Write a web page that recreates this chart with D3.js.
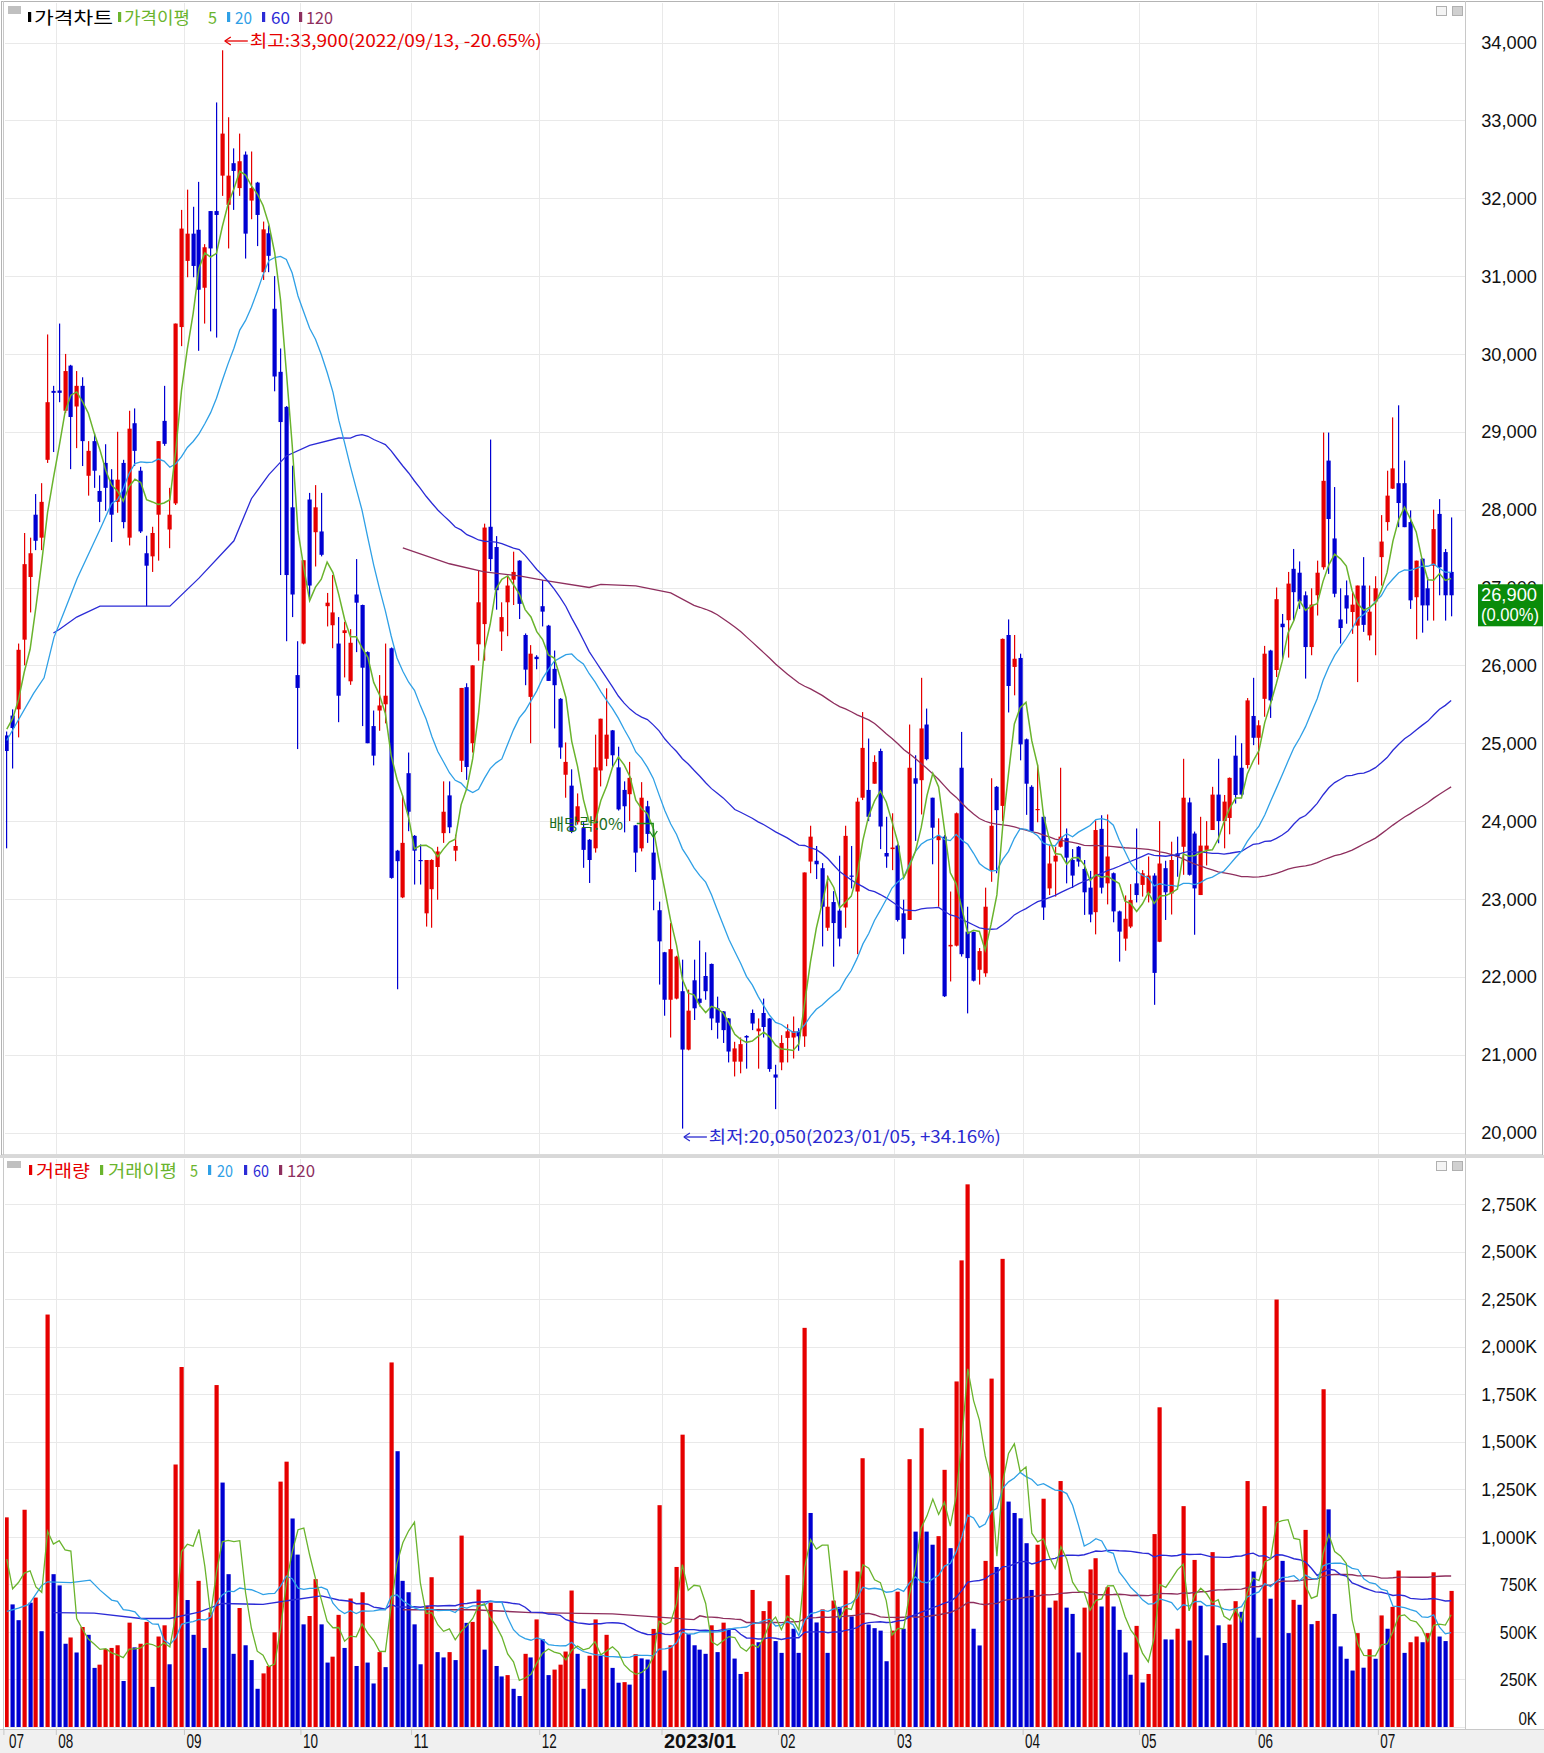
<!DOCTYPE html>
<html><head><meta charset="utf-8">
<script src="https://cdn.jsdelivr.net/npm/d3@7"></script>
<style>html,body{margin:0;padding:0;background:#fff;} svg{display:block;}</style>
</head><body>
<script>
// ---------------- DATA ----------------
const monthTickIdx = [0, 9, 31, 51, 70, 92, 113, 133, 153, 175, 195, 215, 236];
const monthLabels  = ["07","08","09","10","11","12","2023/01","02","03","04","05","06","07"];
const priceTicks = [20000,21000,22000,23000,24000,25000,26000,27000,28000,29000,30000,31000,32000,33000,34000];
const volumeTicks = [0,250,500,750,1000,1250,1500,1750,2000,2250,2500,2750]; // thousands

const opens = [
25100,25355,25435,26330,27135,27935,27640,28640,29525,29530,
29270,29850,29325,29590,28435,28880,28240,28600,28385,28100,
28600,27640,29110,28500,27440,27400,27935,29140,27745,28080,
30345,31195,31545,31595,30850,31835,31835,32290,31915,32450,
32130,32560,31970,32200,31050,31550,30580,29770,29320,28030,
25875,26280,28130,27710,27720,26760,26515,26280,26415,25795,
26910,26775,26170,25220,25420,25500,26220,23620,23020,24615,
23810,23500,22815,23125,23410,23845,24330,23620,24775,25720,
25000,26270,26530,27780,27520,26435,26810,27100,27345,26390,
25595,26110,26760,26510,25955,25570,24595,24455,23985,23910,
23760,23650,24650,24800,25165,24690,24400,24345,23945,23650,
24190,23595,22855,22315,21705,21720,21815,21065,21955,21720,
22010,22165,21595,21555,21465,20910,20910,21240,21535,21300,
21535,21465,20745,20900,21215,21220,21300,21235,23480,23490,
23395,22630,22960,22850,22890,23300,23095,24300,24400,24480,
24900,23590,23640,23685,22815,22730,24550,24525,25240,24300,
23755,23800,22390,22400,24685,22580,22575,22090,22045,23370,
24440,24195,26390,25980,26095,25050,24440,24140,24055,23135,
23480,23670,23780,23500,23670,23385,23145,22830,23900,23200,
23330,22840,22490,22645,23200,23180,23070,23300,22450,23395,
23070,23585,23670,24240,23840,23050,23630,23885,24340,24000,
24040,24840,24685,24720,25350,25070,25570,26190,25940,26535,
26580,27240,27190,26900,26235,26900,27260,28630,27630,26590,
26900,26685,26510,27025,26385,26820,27390,27840,28270,28340,
28340,27840,26875,27370,26990,27280,27945,27455,27200];

const highs = [
25150,25435,26280,27700,27640,28200,28340,30250,29590,30390,
30000,29860,29780,29700,28880,28980,28440,28840,28520,29000,
28640,29270,29300,28550,27665,27780,28880,29590,28280,30390,
31850,32110,31890,32210,31410,31835,33230,33900,33040,32640,
32830,32600,32600,32210,31700,31650,31000,30070,29330,28565,
26310,27350,28215,28315,28215,26930,27160,26620,26560,26465,
27365,26780,26180,25420,25875,26280,26230,23630,24330,24880,
23820,23700,23500,23510,23670,24510,24510,23825,25710,25770,
26000,27225,27820,28900,27660,26810,27150,27460,27350,26410,
26260,26130,27095,26520,26190,25580,25010,24665,24355,23985,
23770,25110,25315,25705,25170,24955,24510,24760,23950,24500,
24260,23900,22965,22320,22690,22270,22220,21835,22220,22465,
22315,22170,21745,21560,21470,21165,21220,21250,21580,21465,
21720,21470,20870,21250,21390,21490,21340,23340,23940,23680,
23460,23300,23100,23555,23940,23680,24300,25400,25060,24845,
24930,24055,24100,23700,22990,25240,24845,25840,25445,24300,
24035,23820,23095,24110,25145,22900,22580,22370,23145,24550,
24450,26345,26590,26390,26150,25060,24460,24725,24060,23690,
23670,24685,23905,23640,23680,23500,23360,24010,24075,24085,
23340,22850,23045,23190,23905,23370,23545,23330,24000,23490,
23735,23800,24800,24300,23865,24055,24000,24440,24800,24335,
24560,25100,25000,25580,25840,25295,26250,26200,27000,26660,
27200,27495,27335,26950,26990,27345,28990,28990,28290,26990,
27090,26940,27025,27390,27025,27145,27930,28500,29185,29340,
28630,27990,27345,27375,27135,28000,28135,27495,27900];

const lows = [
23650,24675,25075,26000,26680,27480,27480,28600,28740,29380,
29240,28520,28790,28560,28180,28280,27840,27985,27585,27960,
27760,27540,28560,27700,26760,27200,27345,28820,27505,28060,
30100,30985,30985,30040,30390,30290,30210,32030,31355,31850,
32030,31225,31730,31385,30950,31050,29520,27160,26310,26620,
24925,26270,26870,27270,27400,26500,26220,25270,25845,25750,
26170,25220,25000,24715,25160,25255,23260,21840,23010,23870,
23185,23185,22645,22630,22990,23720,23845,23485,24630,24530,
24880,26060,26060,27210,26715,26185,26375,26775,26595,25745,
25000,25950,26500,25800,25190,24800,24300,23845,23955,23400,
23205,23595,24445,24705,24690,24135,23855,24000,23345,23610,
23720,22855,21900,21500,21220,21710,20050,21055,21445,21620,
21705,21315,21205,21150,20900,20720,20760,20820,21315,20820,
21220,20780,20300,20800,20900,20950,21050,21100,23330,23255,
22390,22590,22130,22390,22630,23135,22290,24270,24000,24480,
23640,23400,23370,22710,22290,22730,23745,24085,24780,23445,
22900,21740,21940,22390,22260,21530,21940,21900,22000,23220,
23330,24000,25395,25615,24780,24080,23860,23985,22730,23050,
23030,23660,23200,23140,23415,22795,22700,22545,23070,22930,
22700,22195,22335,22625,22955,23030,22955,21640,22445,22730,
22800,23285,23310,23300,22540,23050,23430,23885,23715,23650,
23830,24225,24325,24675,24975,24725,25340,25325,25850,26085,
26100,26575,26725,25830,26130,26640,27230,27175,26875,26280,
26535,26405,25785,26430,26320,26130,27025,27730,28265,27775,
27775,26725,26335,26420,26575,26575,26900,26575,26630];

const closes = [
24900,25195,26200,27300,27440,27600,28100,29380,29500,29500,
29780,29190,29590,28880,28755,28500,28100,28280,27935,28385,
27840,29040,28755,27720,27280,27700,28880,28845,27935,30390,
31610,31545,31130,30825,31370,31355,31785,32830,32290,32350,
32475,31545,32130,31785,31600,31260,29710,29125,27160,26910,
25710,27350,27025,28030,27420,26805,26680,25610,26450,26290,
26805,25970,25000,24840,25485,25610,23270,23485,23720,24120,
23620,23485,23500,23500,23610,24120,23920,23680,25710,24695,
26000,26810,27770,27365,26965,26620,27025,27200,26790,25945,
26150,26080,26690,25800,25745,24945,24760,23870,24190,23630,
23500,24690,25315,25110,24845,24150,24190,24555,23595,24300,
23835,23245,22455,21705,22355,22260,21065,21565,21595,21665,
21815,21465,21410,21315,21040,21080,21135,21220,21400,21335,
21355,20815,20705,21150,21300,21300,21235,23340,23800,23445,
22900,22900,22690,22490,23810,23290,24250,24940,24055,24760,
23930,23545,23660,22730,22490,24685,24480,25190,24795,23915,
23810,21750,22410,24100,22290,22240,21950,22330,22900,23940,
24140,26340,25735,26085,24985,24480,23865,24155,22890,23455,
23555,23800,23530,23300,23480,23085,22800,23885,23145,23545,
22840,22580,22745,22985,23050,23330,23300,22050,23455,23085,
23500,23545,24300,23310,23135,23685,23685,24340,24000,24250,
24555,24335,24340,25550,25070,25230,26150,25550,26850,26490,
27050,26940,26820,26235,26780,27190,28370,27880,26920,26480,
26730,26780,27025,26520,26690,26990,27590,28180,28530,28085,
27775,26835,27345,26770,26770,27750,27260,26900,26900];

// volume in thousands of shares
const volumes = [
1103,645,562,1143,654,681,504,2170,804,745,
438,471,392,526,485,311,328,410,416,430,
242,549,419,438,553,211,476,535,330,1381,
1894,668,485,769,416,603,1799,1286,804,385,
626,430,352,201,282,321,498,1291,1396,1097,
907,540,584,778,540,339,370,590,416,676,
321,709,339,229,394,315,1918,1451,769,709,
540,330,639,788,394,366,394,352,1007,548,
553,723,407,654,321,266,273,201,163,385,
366,566,462,273,302,328,397,718,385,201,
375,566,375,485,311,233,236,223,383,361,
355,516,1167,297,430,842,1538,489,430,407,
385,535,394,549,516,360,279,290,721,446,
610,662,452,390,799,517,390,2100,1126,550,
619,390,665,632,823,582,818,1414,539,520,
507,346,507,712,517,1409,1028,1572,1028,959,
1004,1353,941,1818,2455,2855,517,429,874,1833,
842,2463,1186,1126,1098,967,721,959,1201,628,
665,1294,628,595,392,628,829,888,634,736,
634,511,392,275,532,234,279,1015,1682,461,
460,517,1162,455,879,638,377,920,535,442,
539,662,606,1294,818,470,1162,675,2249,874,
494,669,643,1037,541,558,1777,1145,595,424,
359,297,494,312,409,359,587,517,632,823,
390,446,476,446,494,814,476,452,716];

const ma5Lead   = [[0,25180],[1,25315],[2,25555],[3,25915]];
const ma20Lead  = [[0,25035],[1.2,25195],[4.6,25640],[6.4,25840],[8.1,26360],[9.8,26680],[12.1,27120],[16.1,27760],[18,28080]];
const ma60Lead  = [[8,26415],[9,26460],[12,26620],[16,26760],[24,26760],[28,26760],[33,27120],[39,27600],[42,28140],[45,28450],[48,28690],[52,28825],[57,28920]];
const ma120Lead = [[68,27510],[76,27305],[82,27200],[88,27150],[92,27095],[100,27000],[102,27040],[108,27020],[114,26930],[118,26770]];
const vma5Lead   = [[0,883],[1,727],[2,760],[3,810]];
const vma20Lead  = [[0,608],[2,625],[3.8,645],[6,745],[7,764],[11,760],[14.3,773],[16,720],[18,668]];
const vma60Lead  = [[8,602],[15,599],[23,571],[28,571],[33,604],[37,650],[44,645],[49,668],[54,690],[57,668]];
const vma120Lead = [[68,617],[80,617],[90,602],[104,595],[118,565]];

// ---------------- LAYOUT ----------------
const W = 1544, H = 1753;
const plotL = 5, plotR = 1465;
const pTop = 3, pBot = 1154, vTop = 1159, vBot = 1729;
const RED = "#e60000", BLUE = "#0000d2";
const C5 = "#6ab42d", C20 = "#2fa0e6", C60 = "#2b2bd6", C120 = "#8e2f5e";
const GRID = "#e9e9e9";

const N = closes.length;
const x = d3.scaleLinear().domain([0, N - 1]).range([6.3, 6.3 + (N - 1) * 5.824]);
const y = d3.scaleLinear().domain([20000, 34000]).range([1132.5, 42.5]);
const yv = d3.scaleLinear().domain([0, 2750]).range([1727, 1204.3]);

const svg = d3.select("body").append("svg").attr("width", W).attr("height", H)
  .attr("font-family", "'Liberation Sans', Arial, sans-serif");

svg.append("rect").attr("width", W).attr("height", H).attr("fill", "#ffffff");
svg.append("rect").attr("x", 0).attr("y", vBot + 1).attr("width", W).attr("height", H - vBot - 1).attr("fill", "#f0f0f0");

const defs = svg.append("defs");
defs.append("clipPath").attr("id", "clipP").append("rect").attr("x", plotL).attr("y", pTop).attr("width", plotR - plotL).attr("height", pBot - pTop);
defs.append("clipPath").attr("id", "clipV").append("rect").attr("x", plotL).attr("y", vTop).attr("width", plotR - plotL).attr("height", vBot - vTop);

// grids
const edge = i => x(i) - 2.9;
function grid(g, top, bot, ticks, ys) {
  g.selectAll("line.h").data(ticks).join("line").attr("class", "h")
    .attr("x1", plotL).attr("x2", plotR).attr("y1", d => Math.round(ys(d)) + 0.5).attr("y2", d => Math.round(ys(d)) + 0.5)
    .attr("stroke", GRID).attr("stroke-width", 1);
  g.selectAll("line.v").data(monthTickIdx.slice(1)).join("line").attr("class", "v")
    .attr("x1", d => Math.round(edge(d)) + 0.5).attr("x2", d => Math.round(edge(d)) + 0.5).attr("y1", top).attr("y2", bot)
    .attr("stroke", GRID).attr("stroke-width", 1);
}
grid(svg.append("g"), pTop, pBot, priceTicks, y);
grid(svg.append("g"), vTop, vBot, volumeTicks, yv);

// frames
svg.append("rect").attr("x", 1.5).attr("y", 1.5).attr("width", W - 3).attr("height", pBot - 0.5).attr("fill", "none").attr("stroke", "#b4b4b4");
svg.append("line").attr("x1", plotR + 0.5).attr("x2", plotR + 0.5).attr("y1", 1).attr("y2", vBot).attr("stroke", "#c8c8c8");
svg.append("line").attr("x1", 3.5).attr("x2", 3.5).attr("y1", 1).attr("y2", vBot).attr("stroke", "#c8c8c8");
svg.append("rect").attr("x", 0).attr("y", pBot + 1).attr("width", W).attr("height", vTop - pBot - 2).attr("fill", "#d8d8d8");
svg.append("line").attr("x1", 0).attr("x2", W).attr("y1", vBot + 0.5).attr("y2", vBot + 0.5).attr("stroke", "#c8c8c8");

// ---------------- PRICE PANEL ----------------
const candles = d3.range(N).map(i => ({ i, o: opens[i], h: highs[i], l: lows[i], c: closes[i] }));
const isUp = d => d.c >= d.o;
const gP = svg.append("g").attr("clip-path", "url(#clipP)");
gP.selectAll("rect.wick").data(candles).join("rect").attr("class", "wick")
  .attr("x", d => Math.round(x(d.i))).attr("width", 1.2)
  .attr("y", d => y(d.h)).attr("height", d => Math.max(1, y(d.l) - y(d.h)))
  .attr("fill", d => isUp(d) ? RED : BLUE);
gP.selectAll("rect.body").data(candles).join("rect").attr("class", "body")
  .attr("x", d => Math.round(x(d.i)) - 1.5).attr("width", 4.2)
  .attr("y", d => y(Math.max(d.o, d.c))).attr("height", d => Math.max(1.2, Math.abs(y(d.o) - y(d.c))))
  .attr("fill", d => isUp(d) ? RED : BLUE);

function maPts(arr, n, lead) {
  const pts = lead.slice();
  for (let i = n - 1; i < arr.length; i++) pts.push([i, d3.mean(arr.slice(i - n + 1, i + 1))]);
  return pts;
}
const lineP = d3.line().x(d => x(d[0]) + 0.5).y(d => y(d[1]));
[[120, ma120Lead, C120, 1.3], [60, ma60Lead, C60, 1.3], [20, ma20Lead, C20, 1.3], [5, ma5Lead, C5, 1.5]].forEach(([n, lead, col, w]) => {
  gP.append("path").datum(maPts(closes, n, lead)).attr("d", lineP).attr("fill", "none").attr("stroke", col).attr("stroke-width", w);
});

// price axis
const yAxis = d3.axisLeft(y).tickValues(priceTicks).tickSize(0).tickPadding(0).tickFormat(d3.format(","));
const gy = svg.append("g").attr("transform", "translate(1537,0)").call(yAxis);
gy.select(".domain").remove();
gy.selectAll("text").attr("font-family", "'Liberation Sans', Arial").attr("font-size", 19).attr("fill", "#111")
  .attr("textLength", function () { return this.textContent.length * 9.3; }).attr("lengthAdjust", "spacingAndGlyphs");

// current price tag
const last = closes[N - 1];
svg.append("rect").attr("x", 1478).attr("y", y(last) - 11).attr("width", 65).attr("height", 42).attr("fill", "#0a8c0a");
svg.append("text").attr("x", 1481).attr("y", y(last) + 6).attr("fill", "#fff").attr("font-size", 18)
  .attr("textLength", 56).attr("lengthAdjust", "spacingAndGlyphs").text(d3.format(",")(last));
svg.append("text").attr("x", 1481).attr("y", y(last) + 26).attr("fill", "#fff").attr("font-size", 18)
  .attr("textLength", 58).attr("lengthAdjust", "spacingAndGlyphs").text("(0.00%)");

// annotations
function arrowText(xStart, yc, txt, width, color) {
  const g = svg.append("g");
  g.append("line").attr("x1", xStart + 1).attr("x2", xStart + 24).attr("y1", yc).attr("y2", yc).attr("stroke", color).attr("stroke-width", 1.3);
  g.append("path").attr("d", `M${xStart + 1},${yc} l6,-4 M${xStart + 1},${yc} l6,4`).attr("stroke", color).attr("stroke-width", 1.3).attr("fill", "none");
  g.append("text").attr("x", xStart + 26).attr("y", yc + 6).attr("fill", color).attr("font-size", 17)
    .attr("font-family", "'Noto Sans CJK KR', sans-serif")
    .attr("textLength", width).attr("lengthAdjust", "spacingAndGlyphs").text(txt);
}
const hiIdx = highs.indexOf(d3.max(highs)), loIdx = lows.indexOf(d3.min(lows));
arrowText(x(hiIdx) + 2, 41, "최고:33,900(2022/09/13, -20.65%)", 292, "#e60000");
arrowText(x(loIdx) + 1, 1137, "최저:20,050(2023/01/05, +34.16%)", 292, "#2a2ad0");

// ex-dividend marker
const exIdx = 111;
svg.append("text").attr("x", 549).attr("y", 830).attr("fill", "#1d6e1d").attr("font-size", 16)
  .attr("font-family", "'Noto Sans CJK KR', sans-serif").attr("textLength", 74).attr("lengthAdjust", "spacingAndGlyphs").text("배당락:0%");
svg.append("path").attr("d", `M${x(exIdx) - 16},${823.5} H${x(exIdx) + 0.5} V${836}`).attr("fill", "none").attr("stroke", "#1d8a1d").attr("stroke-width", 1.3);
svg.append("path").attr("d", `M${x(exIdx) - 3.5},${831} L${x(exIdx) + 0.5},${837} L${x(exIdx) + 4.5},${831}`).attr("fill", "none").attr("stroke", "#1d8a1d").attr("stroke-width", 1.3);

// ---------------- VOLUME PANEL ----------------
const vols = volumes.map((v, i) => ({ i, v, up: i === 0 || v >= volumes[i - 1] }));
const gV = svg.append("g").attr("clip-path", "url(#clipV)");
gV.selectAll("rect").data(vols).join("rect")
  .attr("x", d => Math.round(x(d.i)) - 1.5).attr("width", 4.2)
  .attr("y", d => yv(d.v)).attr("height", d => yv(0) - yv(d.v))
  .attr("fill", d => d.up ? RED : BLUE);
const lineV = d3.line().x(d => x(d[0]) + 0.5).y(d => yv(d[1]));
[[120, vma120Lead, C120, 1.4], [60, vma60Lead, C60, 1.4], [20, vma20Lead, C20, 1.3], [5, vma5Lead, C5, 1.3]].forEach(([n, lead, col, w]) => {
  gV.append("path").datum(maPts(volumes, n, lead)).attr("d", lineV).attr("fill", "none").attr("stroke", col).attr("stroke-width", w);
});

const vAxis = d3.axisLeft(yv).tickValues(volumeTicks).tickSize(0).tickPadding(0).tickFormat(d => d3.format(",")(d) + "K");
const gvy = svg.append("g").attr("transform", "translate(1537,0)").call(vAxis);
gvy.select(".domain").remove();
gvy.selectAll("text").attr("font-family", "'Liberation Sans', Arial").attr("font-size", 19).attr("fill", "#111")
  .attr("textLength", function () { return this.textContent.length * 9.3; }).attr("lengthAdjust", "spacingAndGlyphs");
gvy.selectAll(".tick").filter(d => d === 0).select("text").attr("dy", "-0.15em");

// ---------------- X AXIS ----------------
const xEdge = d3.scaleLinear().domain(x.domain()).range(x.range().map(r => r - 2.9));
const xAxis = d3.axisBottom(xEdge).tickValues(monthTickIdx).tickSize(6).tickPadding(2)
  .tickFormat(d => monthLabels[monthTickIdx.indexOf(d)]);
const gx = svg.append("g").attr("transform", `translate(0,${vBot})`).call(xAxis);
gx.select(".domain").remove();
gx.selectAll(".tick line").attr("stroke", "#c8c8c8");
gx.selectAll(".tick text").attr("text-anchor", "start").attr("x", 2).attr("y", 5).attr("dy", "0.71em")
  .attr("font-family", "'Liberation Sans', Arial").attr("font-size", 20).attr("fill", "#111")
  .attr("font-weight", d => d === 113 ? "bold" : "normal")
  .attr("textLength", d => d === 113 ? 72 : 15).attr("lengthAdjust", "spacingAndGlyphs");
gx.selectAll(".tick").filter(d => d === 0).select("text").attr("x", 5);

// ---------------- LEGENDS ----------------
function legend(yBase, items) {
  const g = svg.append("g");
  items.forEach(it => {
    if (it.bar) g.append("rect").attr("x", it.x).attr("y", yBase - 12).attr("width", 3.2).attr("height", 10).attr("fill", it.color);
    else g.append("text").attr("x", it.x).attr("y", yBase).attr("fill", it.color).attr("font-size", 17)
      .attr("font-family", "'Noto Sans CJK KR', sans-serif")
      .attr("textLength", it.w).attr("lengthAdjust", "spacingAndGlyphs").text(it.t);
  });
  return g;
}
svg.append("rect").attr("x", 8).attr("y", 6).attr("width", 13).attr("height", 8).attr("fill", "#c0c0c0");
legend(24, [
  { bar: true, x: 28, color: "#000" }, { x: 34, t: "가격차트", w: 79, color: "#000" },
  { bar: true, x: 118, color: C5 }, { x: 124, t: "가격이평", w: 66, color: C5 }, { x: 208, t: "5", w: 9, color: C5 },
  { bar: true, x: 227, color: C20 }, { x: 235, t: "20", w: 17, color: C20 },
  { bar: true, x: 262, color: C60 }, { x: 271, t: "60", w: 19, color: C60 },
  { bar: true, x: 299, color: C120 }, { x: 306, t: "120", w: 27, color: C120 }
]);
svg.append("rect").attr("x", 7).attr("y", 1161).attr("width", 14).attr("height", 7).attr("fill", "#c0c0c0");
legend(1177, [
  { bar: true, x: 29, color: RED }, { x: 36, t: "거래량", w: 54, color: RED },
  { bar: true, x: 100, color: C5 }, { x: 108, t: "거래이평", w: 69, color: C5 }, { x: 190, t: "5", w: 8, color: C5 },
  { bar: true, x: 208, color: C20 }, { x: 217, t: "20", w: 16, color: C20 },
  { bar: true, x: 244, color: C60 }, { x: 253, t: "60", w: 16, color: C60 },
  { bar: true, x: 279, color: C120 }, { x: 287, t: "120", w: 28, color: C120 }
]);

// window icons top-right
[[1436, 6], [1452, 6], [1436, 1161], [1452, 1161]].forEach(([ix, iy], k) => {
  svg.append("rect").attr("x", ix + 0.5).attr("y", iy + 0.5).attr("width", 10).attr("height", 9)
    .attr("fill", k % 2 ? "#d0d0d0" : "#f4f4f4").attr("stroke", "#b0b0b0");
});
</script>
</body></html>
